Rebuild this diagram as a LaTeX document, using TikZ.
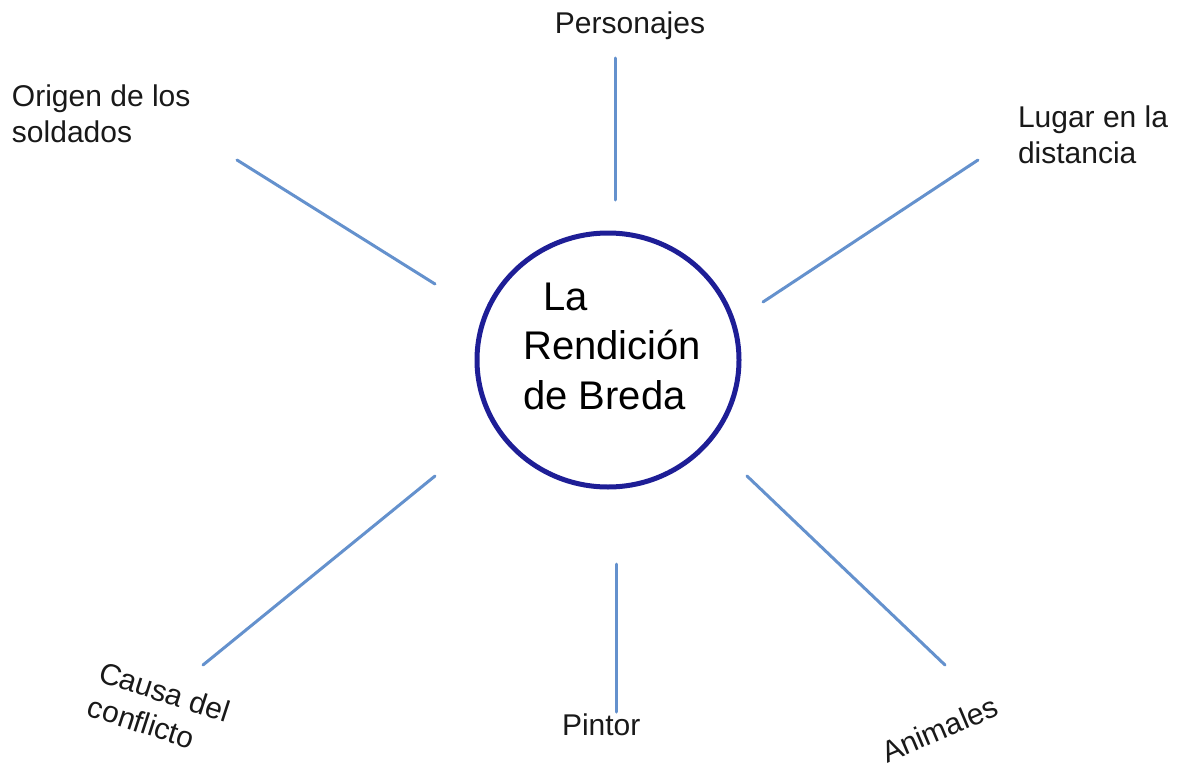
\documentclass[tikz,border=0pt]{standalone}
\usepackage{fontspec}
\setmainfont{Liberation Sans}
\usetikzlibrary{shapes.geometric}
\definecolor{ringblue}{RGB}{30,30,150}
\definecolor{spoke}{RGB}{100,145,205}
\definecolor{txt}{RGB}{25,25,25}
\tikzset{
  spokeline/.style={draw=spoke, line width=3pt, line cap=round},
  lbl/.style={inner sep=0pt, outer sep=0pt, text=txt, anchor=base west,
    font=\fontsize{30}{36}\selectfont},
  ring/.style={ellipse, draw=ringblue, line width=5pt, minimum width=262pt,
    minimum height=254pt, inner sep=0pt, outer sep=0pt}
}
\begin{document}
\begin{tikzpicture}[x=1pt,y=-1pt]
\useasboundingbox (0,0) rectangle (1181,779);
% centre
\node[ring] (c) at (608,360) {};
\node[inner sep=0pt, anchor=base west, text=black,
  font=\fontsize{40}{49.5}\selectfont] (title) at (523,310)
  {\begin{tabular}[t]{@{}l@{}}\hspace*{20pt}La\\Rendición\\de Breda\end{tabular}};
% labels
\node[lbl, anchor=base] (pers) at (630,33) {Personajes};
\node[lbl] (orig) at (12,106) {\begin{tabular}[t]{@{}l@{}}Origen de los\\soldados\end{tabular}};
\node[lbl] (lugar) at (1018,127) {\begin{tabular}[t]{@{}l@{}}Lugar en la\\distancia\end{tabular}};
\node[lbl, rotate=-18] (causa) at (97,681) {\begin{tabular}[t]{@{}l@{}}Causa del\\conflicto\end{tabular}};
\node[lbl] (pint) at (562,735) {Pintor};
\node[lbl, rotate=23] (anim) at (887,763) {Animales};
% spoke ends
\coordinate (t1) at (615,58);   \coordinate (t2) at (615,200);
\coordinate (ul1) at (237,160); \coordinate (ul2) at (435,284);
\coordinate (ur1) at (978,160); \coordinate (ur2) at (763,302);
\coordinate (ll1) at (435,476); \coordinate (ll2) at (203,665);
\coordinate (lr1) at (747,476); \coordinate (lr2) at (945,665);
\coordinate (b1) at (616,564);  \coordinate (b2) at (616,712);
\draw[spokeline] (t1) -- (t2);
\draw[spokeline] (ul1) -- (ul2);
\draw[spokeline] (ur1) -- (ur2);
\draw[spokeline] (ll1) -- (ll2);
\draw[spokeline] (lr1) -- (lr2);
\draw[spokeline] (b1) -- (b2);
\end{tikzpicture}
\end{document}
